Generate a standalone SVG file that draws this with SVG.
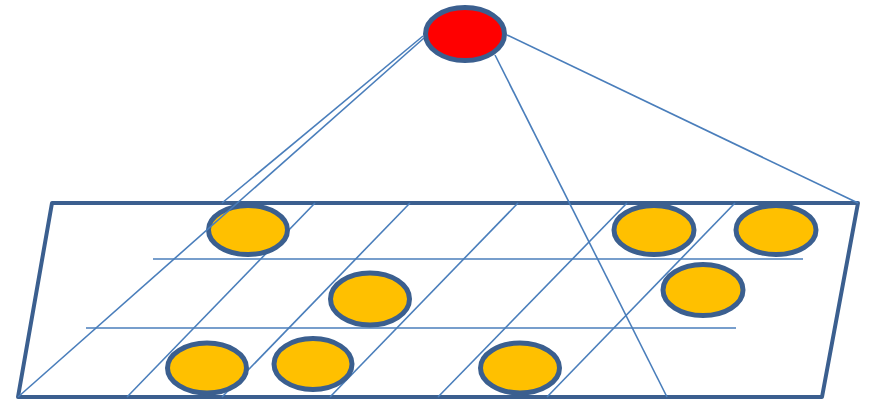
<svg xmlns="http://www.w3.org/2000/svg" width="870" height="401" viewBox="0 0 870 401">
<style>
.thin{stroke:#4A7EBB;stroke-width:1.6;fill:none}
.plane{stroke:#3B5F8F;stroke-width:4;fill:#FFFFFF;stroke-linejoin:round}
.node{stroke:#3B5F8F;stroke-width:5}
.y{fill:#FFC000}
.r{fill:#FF0000}
</style>
<rect width="870" height="401" fill="#FFFFFF"/>
<g id="plane">
<polygon class="plane" points="52,203 858,203 822,397 18,397"/>
</g>
<g id="grid" class="thin">
<line x1="153" y1="259" x2="803" y2="259"/>
<line x1="86" y1="328" x2="736" y2="328"/>
<line x1="127" y1="397" x2="315" y2="203"/>
<line x1="222" y1="397" x2="410" y2="203"/>
<line x1="330" y1="397" x2="518" y2="203"/>
<line x1="438" y1="397" x2="627" y2="203"/>
<line x1="547" y1="397" x2="735" y2="203"/>
</g>
<g id="n1"><ellipse class="node y" cx="248" cy="230" rx="39.5" ry="24.5"/></g>
<g id="n2"><ellipse class="node y" cx="207" cy="368" rx="39.5" ry="25"/></g>
<g id="n3"><ellipse class="node y" cx="313" cy="364" rx="39" ry="25.5"/></g>
<g id="n4"><ellipse class="node y" cx="370" cy="299" rx="39.5" ry="26"/></g>
<g id="n5"><ellipse class="node y" cx="520" cy="368" rx="39.5" ry="25"/></g>
<g id="n6"><ellipse class="node y" cx="654" cy="230" rx="40" ry="24.5"/></g>
<g id="n7"><ellipse class="node y" cx="776" cy="230" rx="40" ry="24.5"/></g>
<g id="n8"><ellipse class="node y" cx="703" cy="290" rx="40" ry="25.5"/></g>
<g id="connectors" class="thin">
<line x1="423" y1="36" x2="222" y2="203"/>
<line x1="424" y1="38" x2="18" y2="397"/>
<line x1="495" y1="55" x2="667" y2="397"/>
<line x1="507" y1="35" x2="858" y2="203"/>
</g>
<g id="top"><ellipse class="node r" cx="465" cy="34" rx="39.5" ry="26.5"/></g>
</svg>
